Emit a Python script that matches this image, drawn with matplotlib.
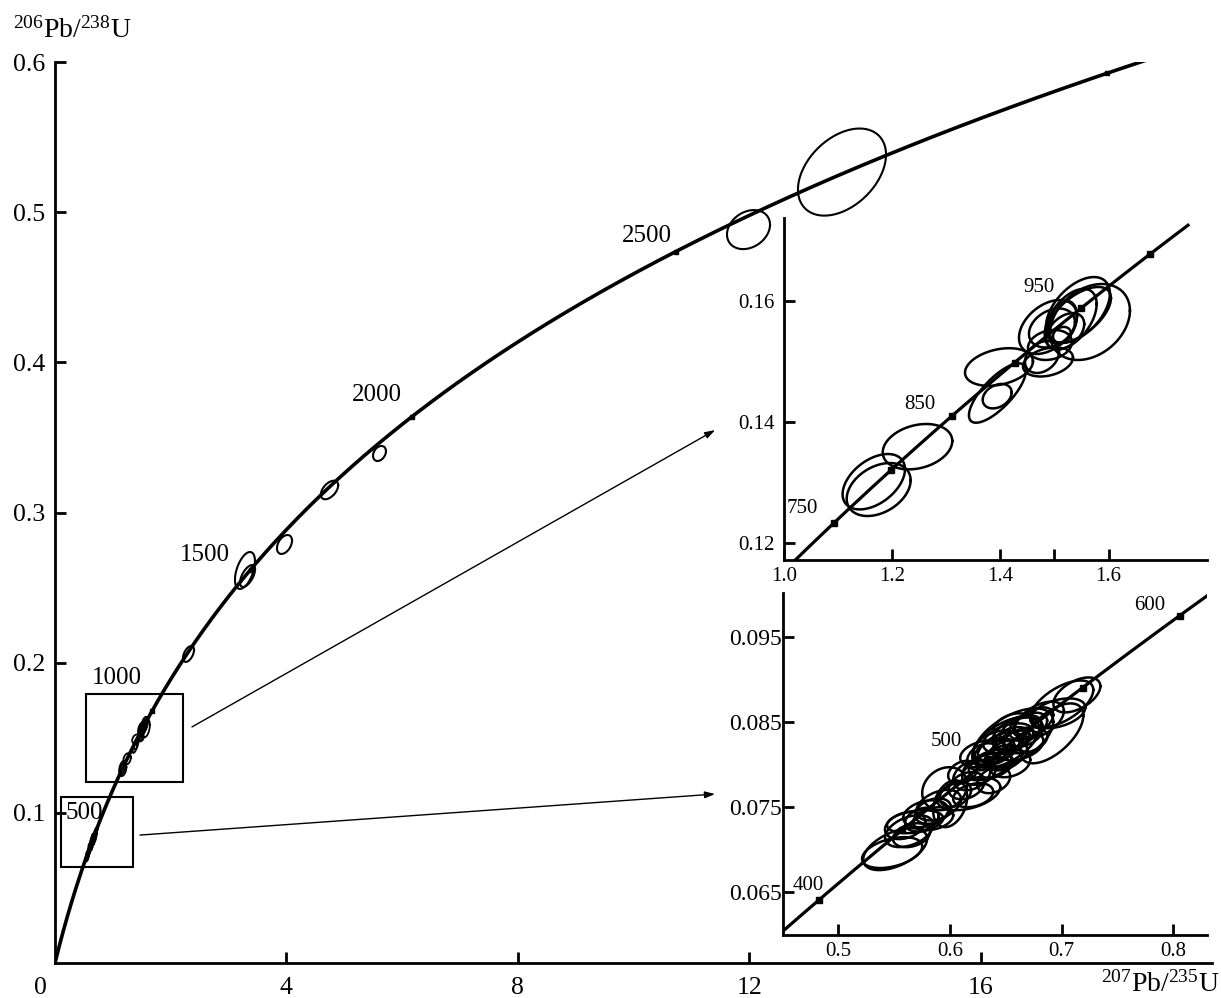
import numpy as np
import matplotlib
matplotlib.use("Agg")
import matplotlib.pyplot as plt
from matplotlib.patches import Rectangle

plt.rcParams['font.family'] = ['Liberation Serif', 'DejaVu Serif']
plt.rcParams['mathtext.fontset'] = 'custom'
plt.rcParams['mathtext.rm'] = 'Liberation Serif'
plt.rcParams['mathtext.default'] = 'regular'

# decay constants (1/yr)
L238 = 1.55125e-10
L235 = 9.8485e-10

# ---------------- data ----------------
# ellipses: x, sx, y, sy, rho  (207Pb/235U, 206Pb/238U)
main_x   = [13.604, 11.988, 5.609, 4.745, 3.967, 3.284, 3.328, 2.308]
main_sx  = [0.761, 0.372, 0.112, 0.150, 0.130, 0.173, 0.130, 0.095]
main_y   = [0.5267, 0.4884, 0.3393, 0.3150, 0.2787, 0.2614, 0.2577, 0.2058]
main_sy  = [0.0290, 0.0130, 0.0050, 0.0062, 0.0063, 0.0123, 0.0073, 0.0053]
main_rho = [0.40, 0.25, 0.30, 0.50, 0.40, 0.50, 0.60, 0.50]

in1_x   = [1.166, 1.175, 1.2468, 1.3941, 1.3946, 1.3974, 1.5434, 1.5656, 1.488,
           1.4954, 1.5453, 1.5157, 1.4769, 1.4917, 1.5139, 1.488, 1.530, 1.520]
in1_sx  = [0.0577, 0.0591, 0.0643, 0.0268, 0.0527, 0.0628, 0.0591, 0.0739, 0.0536,
           0.0425, 0.0591, 0.0259, 0.0314, 0.0407, 0.0166, 0.0462, 0.0480, 0.0350]
in1_y   = [0.13013, 0.12884, 0.13592, 0.14427, 0.14479, 0.14909, 0.15851, 0.15653,
           0.15570, 0.15554, 0.15769, 0.15653, 0.15074, 0.15273, 0.15440, 0.14992,
           0.15700, 0.15500]
in1_sy  = [0.00458, 0.00438, 0.00375, 0.00202, 0.00491, 0.00311, 0.00545, 0.00628,
           0.00446, 0.00322, 0.00463, 0.00347, 0.00264, 0.00248, 0.00132, 0.00240,
           0.00500, 0.00300]
in1_rho = [0.45, 0.35, 0.25, 0.30, 0.75, 0.30, 0.50, 0.30, 0.40, 0.30, 0.60, 0.30,
           0.30, 0.20, 0.20, 0.30, 0.50, 0.40]

in2_x   = [0.5511, 0.5484, 0.5636, 0.5658, 0.5690, 0.5784, 0.5851, 0.6003, 0.5954,
           0.6115, 0.6169, 0.6209, 0.6343, 0.6303, 0.6419, 0.6522, 0.6612, 0.6643,
           0.6746, 0.6303, 0.6513, 0.6540, 0.6392, 0.6567, 0.6675, 0.6196, 0.6567,
           0.6966, 0.7136, 0.7001, 0.6912,
           0.640, 0.645, 0.655, 0.660, 0.648, 0.636, 0.626, 0.670, 0.680, 0.615,
           0.605, 0.585, 0.575, 0.560, 0.590, 0.650]
in2_sx  = [0.0286, 0.0269, 0.0215, 0.0166, 0.0251, 0.0201, 0.0179, 0.0152, 0.0201,
           0.0130, 0.0282, 0.0179, 0.0224, 0.0210, 0.0210, 0.0224, 0.0224, 0.0192,
           0.0179, 0.0148, 0.0179, 0.0179, 0.0148, 0.0179, 0.0197, 0.0166, 0.0358,
           0.0246, 0.0210, 0.0282, 0.0282,
           0.018, 0.020, 0.016, 0.022, 0.017, 0.019, 0.015, 0.017, 0.022, 0.016,
           0.014, 0.016, 0.015, 0.018, 0.020, 0.030]
in2_y   = [0.07002, 0.06961, 0.07214, 0.07166, 0.07325, 0.07419, 0.07361, 0.07537,
           0.07714, 0.07908, 0.07655, 0.07637, 0.07972, 0.08125, 0.08225, 0.08308,
           0.08225, 0.08378, 0.08496, 0.08090, 0.08125, 0.08008, 0.07814, 0.08443,
           0.08284, 0.07872, 0.08308, 0.08602, 0.08819, 0.08713, 0.08366,
           0.0815, 0.0820, 0.0830, 0.0838, 0.0808, 0.0800, 0.0790, 0.0845, 0.0852,
           0.0775, 0.0765, 0.0745, 0.0735, 0.0728, 0.0752, 0.0826]
in2_sy  = [0.00247, 0.00182, 0.00188, 0.00141, 0.00135, 0.00159, 0.00135, 0.00276,
           0.00253, 0.00135, 0.00194, 0.00141, 0.00159, 0.00159, 0.00176, 0.00176,
           0.00176, 0.00176, 0.00176, 0.00159, 0.00159, 0.00159, 0.00153, 0.00159,
           0.00153, 0.00176, 0.00353, 0.00176, 0.00206, 0.00276, 0.00353,
           0.0016, 0.0018, 0.0014, 0.0020, 0.0015, 0.0017, 0.0014, 0.0016, 0.0022,
           0.0016, 0.0015, 0.0015, 0.0014, 0.0016, 0.0018, 0.0030]
in2_rho = [0.50, 0.40, 0.40, 0.30, 0.30, 0.30, 0.30, 0.30, 0.20, 0.30, 0.40, 0.30,
           0.40, 0.30, 0.40, 0.40, 0.30, 0.30, 0.50, 0.30, 0.30, 0.30, 0.30, 0.30,
           0.30, 0.30, 0.55, 0.40, 0.50, 0.60, 0.60,
           0.40, 0.50, 0.40, 0.50, 0.30, 0.40, 0.30, 0.40, 0.50, 0.30, 0.30, 0.30,
           0.30, 0.30, 0.40, 0.55]

main_marker_ages = [500, 1000, 1500, 2000, 2500, 3000]   # Ma
in1_marker_ages = [750, 800, 850, 900, 950, 1000]
in2_marker_ages = [400, 450, 500, 550, 600]

main_label_ages = ['500', '1000', '1500', '2000', '2500']
main_label_x = [0.50, 1.072, 2.584, 5.566, 10.233]
main_label_y = [0.0999, 0.1901, 0.2720, 0.3782, 0.4838]
in1_label_ages = ['750', '850', '950']
in1_label_x = [1.0333, 1.2505, 1.4723]
in1_label_y = [0.1257, 0.14289, 0.16223]
in2_label_ages = ['400', '500', '600']
in2_label_x = [0.4736, 0.5972, 0.7789]
in2_label_y = [0.06578, 0.08266, 0.09878]

main_xticks = [4, 8, 12, 16]
main_yticks = [0.1, 0.2, 0.3, 0.4, 0.5, 0.6]
in1_xticks = [1.0, 1.2, 1.4, 1.5, 1.6]
in1_xticklabels = ['1.0', '1.2', '1.4', '', '1.6']
in1_yticks = [0.12, 0.14, 0.16]
in2_xticks = [0.5, 0.6, 0.7, 0.8]
in2_yticks = [0.065, 0.075, 0.085, 0.095]

# zoom boxes on main plot: x0, y0, w, h
box_x = [0.535, 0.104]
box_y = [0.1205, 0.064]
box_w = [1.677, 1.244]
box_h = [0.0586, 0.0465]
# arrows (main data coords): start, end
arr_x0 = [2.368, 1.469]
arr_y0 = [0.1572, 0.0852]
arr_x1 = [11.41, 11.41]
arr_y1 = [0.3549, 0.1125]


def concordia(t_ma):
    t = np.asarray(t_ma, dtype=float) * 1e6
    return np.exp(L235 * t) - 1, np.exp(L238 * t) - 1


def draw_ellipses(ax, xs, sxs, ys, sys_, rhos, lw):
    th = np.linspace(0, 2 * np.pi, 200)
    for x, sx, y, sy, r in zip(xs, sxs, ys, sys_, rhos):
        ex = x + sx * np.cos(th)
        ey = y + sy * (r * np.cos(th) + np.sqrt(1 - r * r) * np.sin(th))
        ax.plot(ex, ey, color='black', lw=lw, zorder=3)


fig = plt.figure(figsize=(12.21, 9.98), dpi=100)

# ---------------- main axes ----------------
ax = fig.add_axes([55 / 1221, 35 / 998, 1157 / 1221, 901 / 998])
ax.set_xlim(0, 20)
ax.set_ylim(0, 0.6)
for s in ['top', 'right']:
    ax.spines[s].set_visible(False)
for s in ['left', 'bottom']:
    ax.spines[s].set_linewidth(2.0)
ax.set_xticks(main_xticks)
ax.set_xticklabels([str(v) for v in main_xticks])
ax.set_yticks(main_yticks)
ax.set_yticklabels(['%.1f' % v for v in main_yticks])
ax.tick_params(axis='x', direction='in', length=8, width=2, labelsize=18.5, pad=10)
ax.tick_params(axis='y', direction='in', length=8, width=2, labelsize=18.5, pad=7)
ax.text(-0.26, -0.0093, '0', fontsize=18.5, ha='center', va='top',
        transform=ax.transData, clip_on=False)

tm = np.linspace(0, 3040, 800)
cx, cy = concordia(tm)
ax.plot(cx, cy, color='black', lw=2.6, zorder=2)
mx, my = concordia(main_marker_ages)
ax.plot(mx, my, 's', color='black', ms=3.5, zorder=4)

draw_ellipses(ax, main_x, main_sx, main_y, main_sy, main_rho, 1.5)
draw_ellipses(ax, in1_x, in1_sx, in1_y, in1_sy, in1_rho, 1.3)
draw_ellipses(ax, in2_x, in2_sx, in2_y, in2_sy, in2_rho, 1.3)

for lab, x, y in zip(main_label_ages, main_label_x, main_label_y):
    ax.text(x, y, lab, fontsize=18, ha='center', va='center')

for x0, y0, w, h in zip(box_x, box_y, box_w, box_h):
    ax.add_patch(Rectangle((x0, y0), w, h, fill=False, ec='black', lw=1.5, zorder=3))

for x0, y0, x1, y1 in zip(arr_x0, arr_y0, arr_x1, arr_y1):
    ax.annotate('', xy=(x1, y1), xytext=(x0, y0),
                arrowprops=dict(arrowstyle='-|>,head_length=0.6,head_width=0.2',
                                color='black', lw=1.0, shrinkA=0, shrinkB=0))

fig.text(13 / 1221, 1 - 30 / 998, r'$^{206}$Pb/$^{238}$U', fontsize=20,
         ha='left', va='center')
fig.text(1220 / 1221, 1 - 984 / 998, r'$^{207}$Pb/$^{235}$U', fontsize=20,
         ha='right', va='center')

# ---------------- inset 1 ----------------
a1 = fig.add_axes([784 / 1221, (998 - 560) / 998, (1207 - 784) / 1221, (560 - 218) / 998])
a1.set_facecolor('none')
a1.set_xlim(1.0, 1.782)
a1.set_ylim(0.11719, 0.17372)
for s in ['top', 'right']:
    a1.spines[s].set_visible(False)
for s in ['left', 'bottom']:
    a1.spines[s].set_linewidth(2.0)
a1.set_xticks(in1_xticks)
a1.set_xticklabels(in1_xticklabels)
a1.set_yticks(in1_yticks)
a1.set_yticklabels(['%.2f' % v for v in in1_yticks])
a1.tick_params(axis='x', direction='in', length=8, width=2, labelsize=15, pad=5)
a1.tick_params(axis='y', direction='in', length=8, width=2, labelsize=15, pad=7)
t1 = np.linspace(690, 1026, 400)
x1c, y1c = concordia(t1)
a1.plot(x1c, y1c, color='black', lw=2.3, zorder=2)
m1x, m1y = concordia(in1_marker_ages)
a1.plot(m1x, m1y, 's', color='black', ms=4, zorder=4)
draw_ellipses(a1, in1_x, in1_sx, in1_y, in1_sy, in1_rho, 1.8)
for lab, x, y in zip(in1_label_ages, in1_label_x, in1_label_y):
    a1.text(x, y, lab, fontsize=15, ha='center', va='center')

# ---------------- inset 2 ----------------
a2 = fig.add_axes([783 / 1221, (998 - 935) / 998, (1207 - 783) / 1221, (935 - 593) / 998])
a2.set_facecolor('none')
a2.set_xlim(0.4508, 0.830)
a2.set_ylim(0.0599, 0.1002)
for s in ['top', 'right']:
    a2.spines[s].set_visible(False)
for s in ['left', 'bottom']:
    a2.spines[s].set_linewidth(2.0)
a2.set_xticks(in2_xticks)
a2.set_xticklabels(['%.1f' % v for v in in2_xticks])
a2.set_yticks(in2_yticks)
a2.set_yticklabels(['%.3f' % v for v in in2_yticks])
a2.tick_params(axis='x', direction='in', length=8, width=2, labelsize=15, pad=5)
a2.tick_params(axis='y', direction='in', length=8, width=2, labelsize=17, pad=1)
t2 = np.linspace(340, 625, 400)
x2c, y2c = concordia(t2)
a2.plot(x2c, y2c, color='black', lw=2.3, zorder=2)
m2x, m2y = concordia(in2_marker_ages)
a2.plot(m2x, m2y, 's', color='black', ms=4, zorder=4)
draw_ellipses(a2, in2_x, in2_sx, in2_y, in2_sy, in2_rho, 1.8)
for lab, x, y in zip(in2_label_ages, in2_label_x, in2_label_y):
    a2.text(x, y, lab, fontsize=15, ha='center', va='center')

fig.savefig('out.png', dpi=100)
